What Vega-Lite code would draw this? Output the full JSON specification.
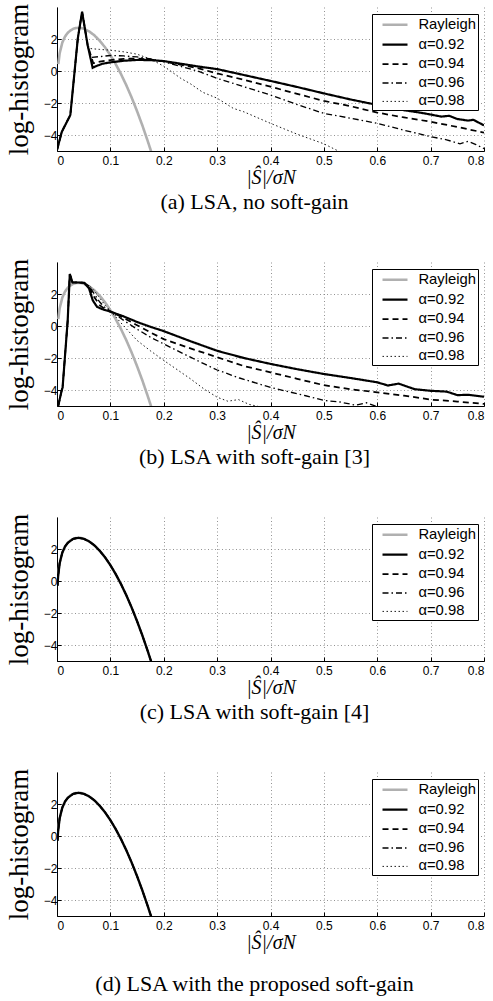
{
  "$schema": "https://vega.github.io/schema/vega-lite/v6.json",
  "background": "white",
  "padding": {"left": 5, "top": 3, "right": 5, "bottom": 5},
  "spacing": 111,
  "bounds": "flush",
  "datasets": {
    "h": [
      {"p":"r","s":"Rayleigh","x":0.0025,"y":0.43},{"p":"r","s":"Rayleigh","x":0.005,"y":1.11},{"p":"r","s":"Rayleigh","x":0.01,"y":1.78},{"p":"r","s":"Rayleigh","x":0.015,"y":2.15},{"p":"r","s":"Rayleigh","x":0.02,"y":2.38},{"p":"r","s":"Rayleigh","x":0.025,"y":2.53},{"p":"r","s":"Rayleigh","x":0.03,"y":2.63},{"p":"r","s":"Rayleigh","x":0.035,"y":2.68},{"p":"r","s":"Rayleigh","x":0.04,"y":2.7},{"p":"r","s":"Rayleigh","x":0.045,"y":2.69},{"p":"r","s":"Rayleigh","x":0.05,"y":2.64},{"p":"r","s":"Rayleigh","x":0.06,"y":2.48},{"p":"r","s":"Rayleigh","x":0.07,"y":2.23},{"p":"r","s":"Rayleigh","x":0.08,"y":1.89},{"p":"r","s":"Rayleigh","x":0.09,"y":1.48},{"p":"r","s":"Rayleigh","x":0.1,"y":0.99},{"p":"r","s":"Rayleigh","x":0.11,"y":0.43},{"p":"r","s":"Rayleigh","x":0.12,"y":-0.2},{"p":"r","s":"Rayleigh","x":0.13,"y":-0.9},{"p":"r","s":"Rayleigh","x":0.14,"y":-1.67},{"p":"r","s":"Rayleigh","x":0.15,"y":-2.51},{"p":"r","s":"Rayleigh","x":0.16,"y":-3.41},{"p":"r","s":"Rayleigh","x":0.17,"y":-4.38},{"p":"r","s":"Rayleigh","x":0.175,"y":-4.89},{"p":"r","s":"Rayleigh","x":0.178,"y":-5.2},

      {"p":"a","s":"α=0.92","x":0,"y":-4.94},{"p":"a","s":"α=0.92","x":0.009,"y":-3.8},{"p":"a","s":"α=0.92","x":0.025,"y":-2.75},{"p":"a","s":"α=0.92","x":0.039,"y":2.04},{"p":"a","s":"α=0.92","x":0.047,"y":3.7},{"p":"a","s":"α=0.92","x":0.0575,"y":1.6},{"p":"a","s":"α=0.92","x":0.0668,"y":0.2},{"p":"a","s":"α=0.92","x":0.073,"y":0.3},{"p":"a","s":"α=0.92","x":0.085,"y":0.45},{"p":"a","s":"α=0.92","x":0.1,"y":0.54},{"p":"a","s":"α=0.92","x":0.125,"y":0.64},{"p":"a","s":"α=0.92","x":0.15,"y":0.69},{"p":"a","s":"α=0.92","x":0.175,"y":0.68},{"p":"a","s":"α=0.92","x":0.2,"y":0.62},{"p":"a","s":"α=0.92","x":0.233,"y":0.45},{"p":"a","s":"α=0.92","x":0.267,"y":0.27},{"p":"a","s":"α=0.92","x":0.3,"y":0.12},{"p":"a","s":"α=0.92","x":0.35,"y":-0.25},{"p":"a","s":"α=0.92","x":0.4,"y":-0.62},{"p":"a","s":"α=0.92","x":0.45,"y":-1.0},{"p":"a","s":"α=0.92","x":0.5,"y":-1.4},{"p":"a","s":"α=0.92","x":0.55,"y":-1.78},{"p":"a","s":"α=0.92","x":0.6,"y":-2.12},{"p":"a","s":"α=0.92","x":0.65,"y":-2.45},{"p":"a","s":"α=0.92","x":0.68,"y":-2.6},{"p":"a","s":"α=0.92","x":0.7,"y":-2.72},{"p":"a","s":"α=0.92","x":0.72,"y":-2.85},{"p":"a","s":"α=0.92","x":0.735,"y":-2.8},{"p":"a","s":"α=0.92","x":0.75,"y":-3.0},{"p":"a","s":"α=0.92","x":0.77,"y":-3.1},{"p":"a","s":"α=0.92","x":0.78,"y":-3.05},{"p":"a","s":"α=0.92","x":0.8,"y":-3.4},

      {"p":"a","s":"α=0.94","x":0,"y":-4.94},{"p":"a","s":"α=0.94","x":0.009,"y":-3.8},{"p":"a","s":"α=0.94","x":0.025,"y":-2.75},{"p":"a","s":"α=0.94","x":0.039,"y":2.04},{"p":"a","s":"α=0.94","x":0.047,"y":3.7},{"p":"a","s":"α=0.94","x":0.0575,"y":1.6},{"p":"a","s":"α=0.94","x":0.068,"y":0.48},{"p":"a","s":"α=0.94","x":0.08,"y":0.58},{"p":"a","s":"α=0.94","x":0.1,"y":0.68},{"p":"a","s":"α=0.94","x":0.125,"y":0.76},{"p":"a","s":"α=0.94","x":0.15,"y":0.78},{"p":"a","s":"α=0.94","x":0.175,"y":0.72},{"p":"a","s":"α=0.94","x":0.2,"y":0.6},{"p":"a","s":"α=0.94","x":0.233,"y":0.38},{"p":"a","s":"α=0.94","x":0.267,"y":0.15},{"p":"a","s":"α=0.94","x":0.3,"y":-0.15},{"p":"a","s":"α=0.94","x":0.35,"y":-0.55},{"p":"a","s":"α=0.94","x":0.4,"y":-0.98},{"p":"a","s":"α=0.94","x":0.45,"y":-1.43},{"p":"a","s":"α=0.94","x":0.5,"y":-1.87},{"p":"a","s":"α=0.94","x":0.55,"y":-2.2},{"p":"a","s":"α=0.94","x":0.6,"y":-2.6},{"p":"a","s":"α=0.94","x":0.65,"y":-2.9},{"p":"a","s":"α=0.94","x":0.7,"y":-3.17},{"p":"a","s":"α=0.94","x":0.75,"y":-3.5},{"p":"a","s":"α=0.94","x":0.8,"y":-3.85},

      {"p":"a","s":"α=0.96","x":0,"y":-4.94},{"p":"a","s":"α=0.96","x":0.009,"y":-3.8},{"p":"a","s":"α=0.96","x":0.025,"y":-2.75},{"p":"a","s":"α=0.96","x":0.039,"y":2.04},{"p":"a","s":"α=0.96","x":0.047,"y":3.7},{"p":"a","s":"α=0.96","x":0.0575,"y":1.6},{"p":"a","s":"α=0.96","x":0.064,"y":0.85},{"p":"a","s":"α=0.96","x":0.08,"y":0.9},{"p":"a","s":"α=0.96","x":0.1,"y":0.97},{"p":"a","s":"α=0.96","x":0.125,"y":0.94},{"p":"a","s":"α=0.96","x":0.15,"y":0.88},{"p":"a","s":"α=0.96","x":0.175,"y":0.76},{"p":"a","s":"α=0.96","x":0.2,"y":0.58},{"p":"a","s":"α=0.96","x":0.233,"y":0.28},{"p":"a","s":"α=0.96","x":0.267,"y":-0.04},{"p":"a","s":"α=0.96","x":0.3,"y":-0.46},{"p":"a","s":"α=0.96","x":0.35,"y":-0.98},{"p":"a","s":"α=0.96","x":0.4,"y":-1.5},{"p":"a","s":"α=0.96","x":0.45,"y":-2.1},{"p":"a","s":"α=0.96","x":0.5,"y":-2.65},{"p":"a","s":"α=0.96","x":0.55,"y":-2.95},{"p":"a","s":"α=0.96","x":0.6,"y":-3.27},{"p":"a","s":"α=0.96","x":0.65,"y":-3.7},{"p":"a","s":"α=0.96","x":0.7,"y":-4.1},{"p":"a","s":"α=0.96","x":0.73,"y":-4.3},{"p":"a","s":"α=0.96","x":0.755,"y":-4.55},{"p":"a","s":"α=0.96","x":0.77,"y":-4.4},{"p":"a","s":"α=0.96","x":0.785,"y":-4.6},{"p":"a","s":"α=0.96","x":0.8,"y":-4.85},

      {"p":"a","s":"α=0.98","x":0,"y":-4.94},{"p":"a","s":"α=0.98","x":0.009,"y":-3.8},{"p":"a","s":"α=0.98","x":0.025,"y":-2.75},{"p":"a","s":"α=0.98","x":0.039,"y":2.04},{"p":"a","s":"α=0.98","x":0.047,"y":3.7},{"p":"a","s":"α=0.98","x":0.0575,"y":1.6},{"p":"a","s":"α=0.98","x":0.063,"y":1.4},{"p":"a","s":"α=0.98","x":0.08,"y":1.35},{"p":"a","s":"α=0.98","x":0.1,"y":1.3},{"p":"a","s":"α=0.98","x":0.125,"y":1.2},{"p":"a","s":"α=0.98","x":0.15,"y":1.05},{"p":"a","s":"α=0.98","x":0.175,"y":0.75},{"p":"a","s":"α=0.98","x":0.2,"y":0.3},{"p":"a","s":"α=0.98","x":0.232,"y":-0.46},{"p":"a","s":"α=0.98","x":0.25,"y":-0.8},{"p":"a","s":"α=0.98","x":0.273,"y":-1.33},{"p":"a","s":"α=0.98","x":0.3,"y":-1.7},{"p":"a","s":"α=0.98","x":0.33,"y":-2.33},{"p":"a","s":"α=0.98","x":0.35,"y":-2.55},{"p":"a","s":"α=0.98","x":0.4,"y":-3.27},{"p":"a","s":"α=0.98","x":0.45,"y":-3.95},{"p":"a","s":"α=0.98","x":0.5,"y":-4.55},{"p":"a","s":"α=0.98","x":0.53,"y":-5.05},

      {"p":"b","s":"α=0.92","x":0.0024,"y":-4.98},{"p":"b","s":"α=0.92","x":0.0087,"y":-4.04},{"p":"b","s":"α=0.92","x":0.0105,"y":-3.84},{"p":"b","s":"α=0.92","x":0.02,"y":0.33},{"p":"b","s":"α=0.92","x":0.024,"y":3.25},{"p":"b","s":"α=0.92","x":0.029,"y":2.72},{"p":"b","s":"α=0.92","x":0.04,"y":2.72},{"p":"b","s":"α=0.92","x":0.051,"y":2.7},{"p":"b","s":"α=0.92","x":0.06,"y":2.35},{"p":"b","s":"α=0.92","x":0.067,"y":1.6},{"p":"b","s":"α=0.92","x":0.075,"y":1.2},{"p":"b","s":"α=0.92","x":0.085,"y":1.05},{"p":"b","s":"α=0.92","x":0.1,"y":0.9},{"p":"b","s":"α=0.92","x":0.125,"y":0.6},{"p":"b","s":"α=0.92","x":0.15,"y":0.25},{"p":"b","s":"α=0.92","x":0.175,"y":-0.05},{"p":"b","s":"α=0.92","x":0.2,"y":-0.32},{"p":"b","s":"α=0.92","x":0.25,"y":-0.95},{"p":"b","s":"α=0.92","x":0.3,"y":-1.55},{"p":"b","s":"α=0.92","x":0.35,"y":-2.0},{"p":"b","s":"α=0.92","x":0.4,"y":-2.37},{"p":"b","s":"α=0.92","x":0.45,"y":-2.7},{"p":"b","s":"α=0.92","x":0.5,"y":-3.0},{"p":"b","s":"α=0.92","x":0.55,"y":-3.25},{"p":"b","s":"α=0.92","x":0.6,"y":-3.52},{"p":"b","s":"α=0.92","x":0.62,"y":-3.72},{"p":"b","s":"α=0.92","x":0.64,"y":-3.6},{"p":"b","s":"α=0.92","x":0.67,"y":-3.95},{"p":"b","s":"α=0.92","x":0.7,"y":-4.05},{"p":"b","s":"α=0.92","x":0.73,"y":-4.1},{"p":"b","s":"α=0.92","x":0.75,"y":-4.32},{"p":"b","s":"α=0.92","x":0.77,"y":-4.3},{"p":"b","s":"α=0.92","x":0.8,"y":-4.42},

      {"p":"b","s":"α=0.94","x":0.0024,"y":-4.98},{"p":"b","s":"α=0.94","x":0.0087,"y":-4.04},{"p":"b","s":"α=0.94","x":0.0105,"y":-3.84},{"p":"b","s":"α=0.94","x":0.02,"y":0.33},{"p":"b","s":"α=0.94","x":0.024,"y":3.25},{"p":"b","s":"α=0.94","x":0.029,"y":2.72},{"p":"b","s":"α=0.94","x":0.04,"y":2.72},{"p":"b","s":"α=0.94","x":0.051,"y":2.7},{"p":"b","s":"α=0.94","x":0.06,"y":2.45},{"p":"b","s":"α=0.94","x":0.07,"y":1.8},{"p":"b","s":"α=0.94","x":0.08,"y":1.3},{"p":"b","s":"α=0.94","x":0.09,"y":1.05},{"p":"b","s":"α=0.94","x":0.1,"y":0.9},{"p":"b","s":"α=0.94","x":0.125,"y":0.5},{"p":"b","s":"α=0.94","x":0.15,"y":0.05},{"p":"b","s":"α=0.94","x":0.175,"y":-0.4},{"p":"b","s":"α=0.94","x":0.2,"y":-0.82},{"p":"b","s":"α=0.94","x":0.25,"y":-1.4},{"p":"b","s":"α=0.94","x":0.3,"y":-1.95},{"p":"b","s":"α=0.94","x":0.35,"y":-2.5},{"p":"b","s":"α=0.94","x":0.4,"y":-2.9},{"p":"b","s":"α=0.94","x":0.45,"y":-3.3},{"p":"b","s":"α=0.94","x":0.5,"y":-3.7},{"p":"b","s":"α=0.94","x":0.55,"y":-3.95},{"p":"b","s":"α=0.94","x":0.6,"y":-4.15},{"p":"b","s":"α=0.94","x":0.65,"y":-4.35},{"p":"b","s":"α=0.94","x":0.7,"y":-4.6},{"p":"b","s":"α=0.94","x":0.75,"y":-4.72},{"p":"b","s":"α=0.94","x":0.8,"y":-4.87},

      {"p":"b","s":"α=0.96","x":0.0024,"y":-4.98},{"p":"b","s":"α=0.96","x":0.0087,"y":-4.04},{"p":"b","s":"α=0.96","x":0.0105,"y":-3.84},{"p":"b","s":"α=0.96","x":0.02,"y":0.33},{"p":"b","s":"α=0.96","x":0.024,"y":3.25},{"p":"b","s":"α=0.96","x":0.029,"y":2.72},{"p":"b","s":"α=0.96","x":0.04,"y":2.72},{"p":"b","s":"α=0.96","x":0.051,"y":2.7},{"p":"b","s":"α=0.96","x":0.06,"y":2.5},{"p":"b","s":"α=0.96","x":0.07,"y":2.0},{"p":"b","s":"α=0.96","x":0.08,"y":1.5},{"p":"b","s":"α=0.96","x":0.09,"y":1.15},{"p":"b","s":"α=0.96","x":0.1,"y":0.92},{"p":"b","s":"α=0.96","x":0.125,"y":0.35},{"p":"b","s":"α=0.96","x":0.15,"y":-0.2},{"p":"b","s":"α=0.96","x":0.175,"y":-0.7},{"p":"b","s":"α=0.96","x":0.2,"y":-1.12},{"p":"b","s":"α=0.96","x":0.25,"y":-1.95},{"p":"b","s":"α=0.96","x":0.276,"y":-2.37},{"p":"b","s":"α=0.96","x":0.3,"y":-2.75},{"p":"b","s":"α=0.96","x":0.342,"y":-3.25},{"p":"b","s":"α=0.96","x":0.4,"y":-3.84},{"p":"b","s":"α=0.96","x":0.466,"y":-4.36},{"p":"b","s":"α=0.96","x":0.5,"y":-4.65},{"p":"b","s":"α=0.96","x":0.53,"y":-4.75},{"p":"b","s":"α=0.96","x":0.56,"y":-4.95},{"p":"b","s":"α=0.96","x":0.58,"y":-4.8},{"p":"b","s":"α=0.96","x":0.6,"y":-5.05},

      {"p":"b","s":"α=0.98","x":0.0024,"y":-4.98},{"p":"b","s":"α=0.98","x":0.0087,"y":-4.04},{"p":"b","s":"α=0.98","x":0.0105,"y":-3.84},{"p":"b","s":"α=0.98","x":0.02,"y":0.33},{"p":"b","s":"α=0.98","x":0.024,"y":3.25},{"p":"b","s":"α=0.98","x":0.029,"y":2.72},{"p":"b","s":"α=0.98","x":0.04,"y":2.72},{"p":"b","s":"α=0.98","x":0.051,"y":2.7},{"p":"b","s":"α=0.98","x":0.06,"y":2.55},{"p":"b","s":"α=0.98","x":0.07,"y":2.2},{"p":"b","s":"α=0.98","x":0.08,"y":1.75},{"p":"b","s":"α=0.98","x":0.09,"y":1.3},{"p":"b","s":"α=0.98","x":0.1,"y":0.95},{"p":"b","s":"α=0.98","x":0.125,"y":0.0},{"p":"b","s":"α=0.98","x":0.15,"y":-0.9},{"p":"b","s":"α=0.98","x":0.175,"y":-1.55},{"p":"b","s":"α=0.98","x":0.2,"y":-2.15},{"p":"b","s":"α=0.98","x":0.25,"y":-3.3},{"p":"b","s":"α=0.98","x":0.276,"y":-3.95},{"p":"b","s":"α=0.98","x":0.3,"y":-4.45},{"p":"b","s":"α=0.98","x":0.32,"y":-4.7},{"p":"b","s":"α=0.98","x":0.34,"y":-4.6},{"p":"b","s":"α=0.98","x":0.36,"y":-4.9},{"p":"b","s":"α=0.98","x":0.38,"y":-5.05},

      {"p":"cd","s":"α=0.92","x":0.001,"y":-0.3},{"p":"cd","s":"α=0.92","x":0.0025,"y":0.43},{"p":"cd","s":"α=0.92","x":0.005,"y":1.11},{"p":"cd","s":"α=0.92","x":0.01,"y":1.78},{"p":"cd","s":"α=0.92","x":0.015,"y":2.15},{"p":"cd","s":"α=0.92","x":0.02,"y":2.38},{"p":"cd","s":"α=0.92","x":0.03,"y":2.63},{"p":"cd","s":"α=0.92","x":0.04,"y":2.7},{"p":"cd","s":"α=0.92","x":0.05,"y":2.64},{"p":"cd","s":"α=0.92","x":0.06,"y":2.48},{"p":"cd","s":"α=0.92","x":0.07,"y":2.23},{"p":"cd","s":"α=0.92","x":0.08,"y":1.89},{"p":"cd","s":"α=0.92","x":0.09,"y":1.48},{"p":"cd","s":"α=0.92","x":0.1,"y":0.99},{"p":"cd","s":"α=0.92","x":0.11,"y":0.43},{"p":"cd","s":"α=0.92","x":0.12,"y":-0.2},{"p":"cd","s":"α=0.92","x":0.13,"y":-0.9},{"p":"cd","s":"α=0.92","x":0.14,"y":-1.67},{"p":"cd","s":"α=0.92","x":0.15,"y":-2.51},{"p":"cd","s":"α=0.92","x":0.16,"y":-3.41},{"p":"cd","s":"α=0.92","x":0.17,"y":-4.38},{"p":"cd","s":"α=0.92","x":0.175,"y":-4.89},{"p":"cd","s":"α=0.92","x":0.178,"y":-5.2},

      {"p":"cd","s":"α=0.94","x":0.001,"y":-0.3},{"p":"cd","s":"α=0.94","x":0.0025,"y":0.43},{"p":"cd","s":"α=0.94","x":0.005,"y":1.11},{"p":"cd","s":"α=0.94","x":0.01,"y":1.78},{"p":"cd","s":"α=0.94","x":0.015,"y":2.15},{"p":"cd","s":"α=0.94","x":0.02,"y":2.38},{"p":"cd","s":"α=0.94","x":0.03,"y":2.63},{"p":"cd","s":"α=0.94","x":0.04,"y":2.7},{"p":"cd","s":"α=0.94","x":0.05,"y":2.64},{"p":"cd","s":"α=0.94","x":0.06,"y":2.48},{"p":"cd","s":"α=0.94","x":0.07,"y":2.23},{"p":"cd","s":"α=0.94","x":0.08,"y":1.89},{"p":"cd","s":"α=0.94","x":0.09,"y":1.48},{"p":"cd","s":"α=0.94","x":0.1,"y":0.99},{"p":"cd","s":"α=0.94","x":0.11,"y":0.43},{"p":"cd","s":"α=0.94","x":0.12,"y":-0.2},{"p":"cd","s":"α=0.94","x":0.13,"y":-0.9},{"p":"cd","s":"α=0.94","x":0.14,"y":-1.67},{"p":"cd","s":"α=0.94","x":0.15,"y":-2.51},{"p":"cd","s":"α=0.94","x":0.16,"y":-3.41},{"p":"cd","s":"α=0.94","x":0.17,"y":-4.38},{"p":"cd","s":"α=0.94","x":0.175,"y":-4.89},{"p":"cd","s":"α=0.94","x":0.178,"y":-5.2},

      {"p":"cd","s":"α=0.96","x":0.001,"y":-0.3},{"p":"cd","s":"α=0.96","x":0.0025,"y":0.43},{"p":"cd","s":"α=0.96","x":0.005,"y":1.11},{"p":"cd","s":"α=0.96","x":0.01,"y":1.78},{"p":"cd","s":"α=0.96","x":0.015,"y":2.15},{"p":"cd","s":"α=0.96","x":0.02,"y":2.38},{"p":"cd","s":"α=0.96","x":0.03,"y":2.63},{"p":"cd","s":"α=0.96","x":0.04,"y":2.7},{"p":"cd","s":"α=0.96","x":0.05,"y":2.64},{"p":"cd","s":"α=0.96","x":0.06,"y":2.48},{"p":"cd","s":"α=0.96","x":0.07,"y":2.23},{"p":"cd","s":"α=0.96","x":0.08,"y":1.89},{"p":"cd","s":"α=0.96","x":0.09,"y":1.48},{"p":"cd","s":"α=0.96","x":0.1,"y":0.99},{"p":"cd","s":"α=0.96","x":0.11,"y":0.43},{"p":"cd","s":"α=0.96","x":0.12,"y":-0.2},{"p":"cd","s":"α=0.96","x":0.13,"y":-0.9},{"p":"cd","s":"α=0.96","x":0.14,"y":-1.67},{"p":"cd","s":"α=0.96","x":0.15,"y":-2.51},{"p":"cd","s":"α=0.96","x":0.16,"y":-3.41},{"p":"cd","s":"α=0.96","x":0.17,"y":-4.38},{"p":"cd","s":"α=0.96","x":0.175,"y":-4.89},{"p":"cd","s":"α=0.96","x":0.178,"y":-5.2},

      {"p":"cd","s":"α=0.98","x":0.001,"y":-0.3},{"p":"cd","s":"α=0.98","x":0.0025,"y":0.43},{"p":"cd","s":"α=0.98","x":0.005,"y":1.11},{"p":"cd","s":"α=0.98","x":0.01,"y":1.78},{"p":"cd","s":"α=0.98","x":0.015,"y":2.15},{"p":"cd","s":"α=0.98","x":0.02,"y":2.38},{"p":"cd","s":"α=0.98","x":0.03,"y":2.63},{"p":"cd","s":"α=0.98","x":0.04,"y":2.7},{"p":"cd","s":"α=0.98","x":0.05,"y":2.64},{"p":"cd","s":"α=0.98","x":0.06,"y":2.48},{"p":"cd","s":"α=0.98","x":0.07,"y":2.23},{"p":"cd","s":"α=0.98","x":0.08,"y":1.89},{"p":"cd","s":"α=0.98","x":0.09,"y":1.48},{"p":"cd","s":"α=0.98","x":0.1,"y":0.99},{"p":"cd","s":"α=0.98","x":0.11,"y":0.43},{"p":"cd","s":"α=0.98","x":0.12,"y":-0.2},{"p":"cd","s":"α=0.98","x":0.13,"y":-0.9},{"p":"cd","s":"α=0.98","x":0.14,"y":-1.67},{"p":"cd","s":"α=0.98","x":0.15,"y":-2.51},{"p":"cd","s":"α=0.98","x":0.16,"y":-3.41},{"p":"cd","s":"α=0.98","x":0.17,"y":-4.38},{"p":"cd","s":"α=0.98","x":0.175,"y":-4.89},{"p":"cd","s":"α=0.98","x":0.178,"y":-5.2}
    ]
  },
  "vconcat": [
    {
      "width": 427, "height": 144,
      "data": {"name": "h"},
      "transform": [{"filter": "datum.p == 'r' || datum.p == 'a'"}],
      "title": {"text": "(a) LSA, no soft-gain", "offset": 5},
      "mark": {"type": "line", "clip": true},
      "encoding": {
        "x": {"field": "x", "type": "quantitative", "title": "|Ŝ|/σN", "scale": {"domain": [0, 0.8], "nice": false, "zero": false}, "axis": {"values": [0, 0.1, 0.2, 0.3, 0.4, 0.5, 0.6, 0.7, 0.8]}},
        "y": {"field": "y", "type": "quantitative", "title": "log-histogram", "scale": {"domain": [-5, 4], "nice": false, "zero": false}, "axis": {"values": [-4, -2, 0, 2]}},
        "color": {"field": "s", "type": "nominal", "title": null, "scale": {"domain": ["Rayleigh", "α=0.92", "α=0.94", "α=0.96", "α=0.98"], "range": ["#b0b0b0", "#000000", "#000000", "#000000", "#000000"]}},
        "strokeDash": {"field": "s", "type": "nominal", "title": null, "scale": {"domain": ["Rayleigh", "α=0.92", "α=0.94", "α=0.96", "α=0.98"], "range": [[1, 0], [1, 0], [6, 4], [6, 3, 1.5, 3], [1.5, 2.5]]}},
        "strokeWidth": {"field": "s", "type": "nominal", "title": null, "scale": {"domain": ["Rayleigh", "α=0.92", "α=0.94", "α=0.96", "α=0.98"], "range": [2.6, 0.9, 0.9, 0.9, 0.9]}}
      }
    },
    {
      "width": 427, "height": 144,
      "data": {"name": "h"},
      "transform": [{"filter": "datum.p == 'r' || datum.p == 'b'"}],
      "title": {"text": "(b) LSA with soft-gain [3]", "offset": 5},
      "mark": {"type": "line", "clip": true},
      "encoding": {
        "x": {"field": "x", "type": "quantitative", "title": "|Ŝ|/σN", "scale": {"domain": [0, 0.8], "nice": false, "zero": false}, "axis": {"values": [0, 0.1, 0.2, 0.3, 0.4, 0.5, 0.6, 0.7, 0.8]}},
        "y": {"field": "y", "type": "quantitative", "title": "log-histogram", "scale": {"domain": [-5, 4], "nice": false, "zero": false}, "axis": {"values": [-4, -2, 0, 2]}},
        "color": {"field": "s", "type": "nominal", "title": null, "scale": {"domain": ["Rayleigh", "α=0.92", "α=0.94", "α=0.96", "α=0.98"], "range": ["#b0b0b0", "#000000", "#000000", "#000000", "#000000"]}},
        "strokeDash": {"field": "s", "type": "nominal", "title": null, "scale": {"domain": ["Rayleigh", "α=0.92", "α=0.94", "α=0.96", "α=0.98"], "range": [[1, 0], [1, 0], [6, 4], [6, 3, 1.5, 3], [1.5, 2.5]]}},
        "strokeWidth": {"field": "s", "type": "nominal", "title": null, "scale": {"domain": ["Rayleigh", "α=0.92", "α=0.94", "α=0.96", "α=0.98"], "range": [2.6, 0.9, 0.9, 0.9, 0.9]}}
      }
    },
    {
      "width": 427, "height": 144,
      "data": {"name": "h"},
      "transform": [{"filter": "datum.p == 'r' || datum.p == 'cd'"}],
      "title": {"text": "(c) LSA with soft-gain [4]", "offset": 5},
      "mark": {"type": "line", "clip": true},
      "encoding": {
        "x": {"field": "x", "type": "quantitative", "title": "|Ŝ|/σN", "scale": {"domain": [0, 0.8], "nice": false, "zero": false}, "axis": {"values": [0, 0.1, 0.2, 0.3, 0.4, 0.5, 0.6, 0.7, 0.8]}},
        "y": {"field": "y", "type": "quantitative", "title": "log-histogram", "scale": {"domain": [-5, 4], "nice": false, "zero": false}, "axis": {"values": [-4, -2, 0, 2]}},
        "color": {"field": "s", "type": "nominal", "title": null, "scale": {"domain": ["Rayleigh", "α=0.92", "α=0.94", "α=0.96", "α=0.98"], "range": ["#b0b0b0", "#000000", "#000000", "#000000", "#000000"]}},
        "strokeDash": {"field": "s", "type": "nominal", "title": null, "scale": {"domain": ["Rayleigh", "α=0.92", "α=0.94", "α=0.96", "α=0.98"], "range": [[1, 0], [1, 0], [6, 4], [6, 3, 1.5, 3], [1.5, 2.5]]}},
        "strokeWidth": {"field": "s", "type": "nominal", "title": null, "scale": {"domain": ["Rayleigh", "α=0.92", "α=0.94", "α=0.96", "α=0.98"], "range": [2.6, 0.9, 0.9, 0.9, 0.9]}}
      }
    },
    {
      "width": 427, "height": 144,
      "data": {"name": "h"},
      "transform": [{"filter": "datum.p == 'r' || datum.p == 'cd'"}],
      "title": {"text": "(d) LSA with the proposed soft-gain", "offset": 22},
      "mark": {"type": "line", "clip": true},
      "encoding": {
        "x": {"field": "x", "type": "quantitative", "title": "|Ŝ|/σN", "scale": {"domain": [0, 0.8], "nice": false, "zero": false}, "axis": {"values": [0, 0.1, 0.2, 0.3, 0.4, 0.5, 0.6, 0.7, 0.8]}},
        "y": {"field": "y", "type": "quantitative", "title": "log-histogram", "scale": {"domain": [-5, 4], "nice": false, "zero": false}, "axis": {"values": [-4, -2, 0, 2]}},
        "color": {"field": "s", "type": "nominal", "title": null, "scale": {"domain": ["Rayleigh", "α=0.92", "α=0.94", "α=0.96", "α=0.98"], "range": ["#b0b0b0", "#000000", "#000000", "#000000", "#000000"]}},
        "strokeDash": {"field": "s", "type": "nominal", "title": null, "scale": {"domain": ["Rayleigh", "α=0.92", "α=0.94", "α=0.96", "α=0.98"], "range": [[1, 0], [1, 0], [6, 4], [6, 3, 1.5, 3], [1.5, 2.5]]}},
        "strokeWidth": {"field": "s", "type": "nominal", "title": null, "scale": {"domain": ["Rayleigh", "α=0.92", "α=0.94", "α=0.96", "α=0.98"], "range": [2.6, 0.9, 0.9, 0.9, 0.9]}}
      }
    }
  ],
  "resolve": {"scale": {"x": "independent", "y": "independent"}, "legend": {"color": "independent", "strokeDash": "independent", "strokeWidth": "independent"}},
  "config": {
    "view": {"stroke": null},
    "font": "Liberation Sans",
    "axis": {"domainColor": "#000000", "domainWidth": 1, "tickColor": "#000000", "tickSize": -4, "labelColor": "#000000", "labelFont": "Liberation Sans", "labelFontSize": 12, "gridColor": "#777777", "gridDash": [1, 2.5], "gridWidth": 0.8, "gridOpacity": 1, "titleFont": "Liberation Serif", "titleFontWeight": "normal", "titleColor": "#000000"},
    "axisX": {"format": "~g", "labelPadding": 8, "titleFontSize": 20, "titleFontStyle": "italic", "titlePadding": 1},
    "axisY": {"labelPadding": 4, "titleFontSize": 27, "titlePadding": 10},
    "legend": {"orient": "none", "legendX": 315, "legendY": 7, "strokeColor": "#000000", "fillColor": "#ffffff", "padding": 1.3, "labelFont": "Liberation Sans", "labelFontSize": 14.8, "labelColor": "#000000", "labelLimit": 300, "symbolType": "M-1.5625,0H1.5625", "symbolSize": 256, "rowPadding": 2.9, "symbolOffset": 12.2, "labelOffset": 13.9},
    "title": {"font": "Liberation Serif", "fontSize": 22, "fontWeight": "normal", "color": "#000000", "orient": "bottom", "dx": -16}
  }
}
